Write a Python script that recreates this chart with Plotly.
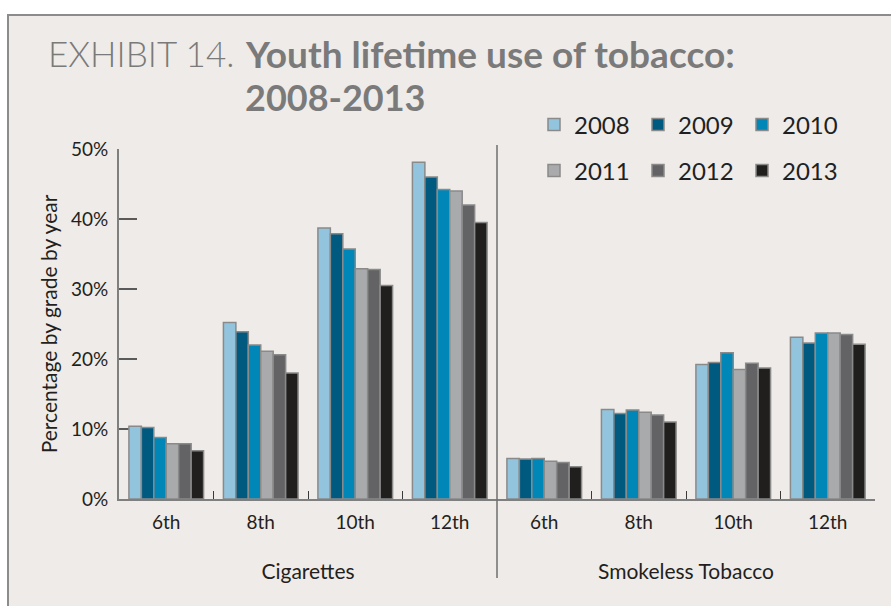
import plotly.graph_objects as go

# ---- data -------------------------------------------------------------
years = ["2008", "2009", "2010", "2011", "2012", "2013"]
grades = ["6th", "8th", "10th", "12th"]
groups = ["Cigarettes", "Smokeless Tobacco"]

# lifetime use (%) by grade, one list per survey year
cig_2008 = [10.4, 25.2, 38.7, 48.1]
cig_2009 = [10.2, 23.9, 37.9, 46.0]
cig_2010 = [8.8, 22.0, 35.7, 44.2]
cig_2011 = [7.9, 21.1, 32.9, 44.0]
cig_2012 = [7.9, 20.6, 32.8, 42.0]
cig_2013 = [6.9, 18.0, 30.5, 39.5]

smk_2008 = [5.8, 12.8, 19.2, 23.1]
smk_2009 = [5.7, 12.2, 19.5, 22.3]
smk_2010 = [5.8, 12.7, 20.9, 23.7]
smk_2011 = [5.4, 12.4, 18.5, 23.7]
smk_2012 = [5.2, 12.0, 19.4, 23.5]
smk_2013 = [4.6, 11.0, 18.7, 22.1]

y_ticks = [0, 10, 20, 30, 40, 50]
y_tick_text = [f"{v}%" for v in y_ticks]

# ---- styling ----------------------------------------------------------
colors = ["#93c4dd", "#005a80", "#0087b8", "#a8aaac", "#636365", "#201f1e"]
FONT = "Lato, Open Sans, sans-serif"
TEXT = "#231f20"
TITLE_GRAY = "#7a7a7a"
BG = "#efebe8"
AXIS = "#7f7f7f"

W, H = 891, 606
L, R, T, B = 119, 16, 149, 107
PW, PH = W - L - R, H - T - B


def px_x(px):
    """pixel column -> paper x"""
    return (px - L) / PW


def px_y(py):
    """pixel row -> paper y"""
    return (H - B - py) / PH


cig = [cig_2008, cig_2009, cig_2010, cig_2011, cig_2012, cig_2013]
smk = [smk_2008, smk_2009, smk_2010, smk_2011, smk_2012, smk_2013]

fig = go.Figure()
for i, yr in enumerate(years):
    leg = "legend" if i < 3 else "legend2"
    marker = dict(color=colors[i], line=dict(color="#8a8a8a", width=1.5))
    fig.add_trace(go.Bar(x=grades, y=cig[i], name=yr, marker=marker,
                         xaxis="x", yaxis="y", legendgroup=yr,
                         legend=leg, showlegend=True))
    fig.add_trace(go.Bar(x=grades, y=smk[i], name=yr, marker=marker,
                         xaxis="x2", yaxis="y", legendgroup=yr,
                         legend=leg, showlegend=False))

xcommon = dict(
    type="category", categoryorder="array", categoryarray=grades,
    ticks="inside", tickson="boundaries", ticklen=8, tickwidth=1.2,
    tickcolor="#3a3a3a", showline=True, linecolor=AXIS, linewidth=2,
    showgrid=False, zeroline=False, anchor="y",
    tickfont=dict(family=FONT, size=19, color=TEXT),
    ticklabelstandoff=5,
)

fig.update_layout(
    width=W, height=H, autosize=False,
    margin=dict(l=L, r=R, t=T, b=B, pad=0),
    paper_bgcolor="white", plot_bgcolor=BG,
    font=dict(family=FONT, color=TEXT),
    barmode="group", bargap=0.21, bargroupgap=0,
    xaxis=dict(domain=[0, 0.5],
               title=dict(text=groups[0], standoff=33,
                          font=dict(family=FONT, size=21, color=TEXT)),
               **xcommon),
    xaxis2=dict(domain=[0.5, 1],
                title=dict(text=groups[1], standoff=33,
                           font=dict(family=FONT, size=21, color=TEXT)),
                **xcommon),
    yaxis=dict(
        range=[0, 50], tickvals=y_ticks, ticktext=y_tick_text,
        ticks="inside", ticklen=18, tickwidth=1.5, tickcolor="#5a5a5a",
        showline=True, linecolor=AXIS, linewidth=2,
        showgrid=False, zeroline=False, layer="below traces",
        tickfont=dict(family=FONT, size=19, color=TEXT),
        ticklabelstandoff=5,
        title=dict(text="Percentage by grade by year", standoff=8,
                   font=dict(family=FONT, size=21, color=TEXT)),
    ),
    legend=dict(orientation="h", x=px_x(534), xanchor="left",
                y=px_y(125), yanchor="middle", entrywidth=59,
                bgcolor="rgba(0,0,0,0)",
                font=dict(family=FONT, size=24, color=TEXT)),
    legend2=dict(orientation="h", x=px_x(534), xanchor="left",
                 y=px_y(171), yanchor="middle", entrywidth=59,
                 bgcolor="rgba(0,0,0,0)",
                 font=dict(family=FONT, size=24, color=TEXT)),
)

# framed panel behind the chart
fig.add_shape(type="rect", xref="paper", yref="paper", layer="below",
              x0=px_x(8), x1=px_x(W + 20), y0=px_y(15), y1=px_y(H + 20),
              fillcolor=BG, line=dict(color="#8c8c8c", width=2))
# divider between the two product groups
fig.add_shape(type="line", xref="paper", yref="paper",
              x0=0.5, x1=0.5, y0=px_y(578), y1=px_y(145),
              line=dict(color="#6f6f6f", width=1.5))

# heading
fig.add_annotation(text="EXHIBIT 14.", xref="paper", yref="paper",
                   x=px_x(46), y=px_y(53), xanchor="left", yanchor="middle",
                   showarrow=False,
                   font=dict(family=FONT, size=35, color=TITLE_GRAY,
                             weight=300))
fig.add_annotation(text="<b>Youth lifetime use of tobacco:</b>",
                   xref="paper", yref="paper",
                   x=px_x(243), y=px_y(53), xanchor="left", yanchor="middle",
                   showarrow=False,
                   font=dict(family=FONT, size=37, color=TITLE_GRAY))
fig.add_annotation(text="<b>2008-2013</b>", xref="paper", yref="paper",
                   x=px_x(243), y=px_y(97), xanchor="left", yanchor="middle",
                   showarrow=False,
                   font=dict(family=FONT, size=36, color=TITLE_GRAY))

fig.write_html("out.html")
